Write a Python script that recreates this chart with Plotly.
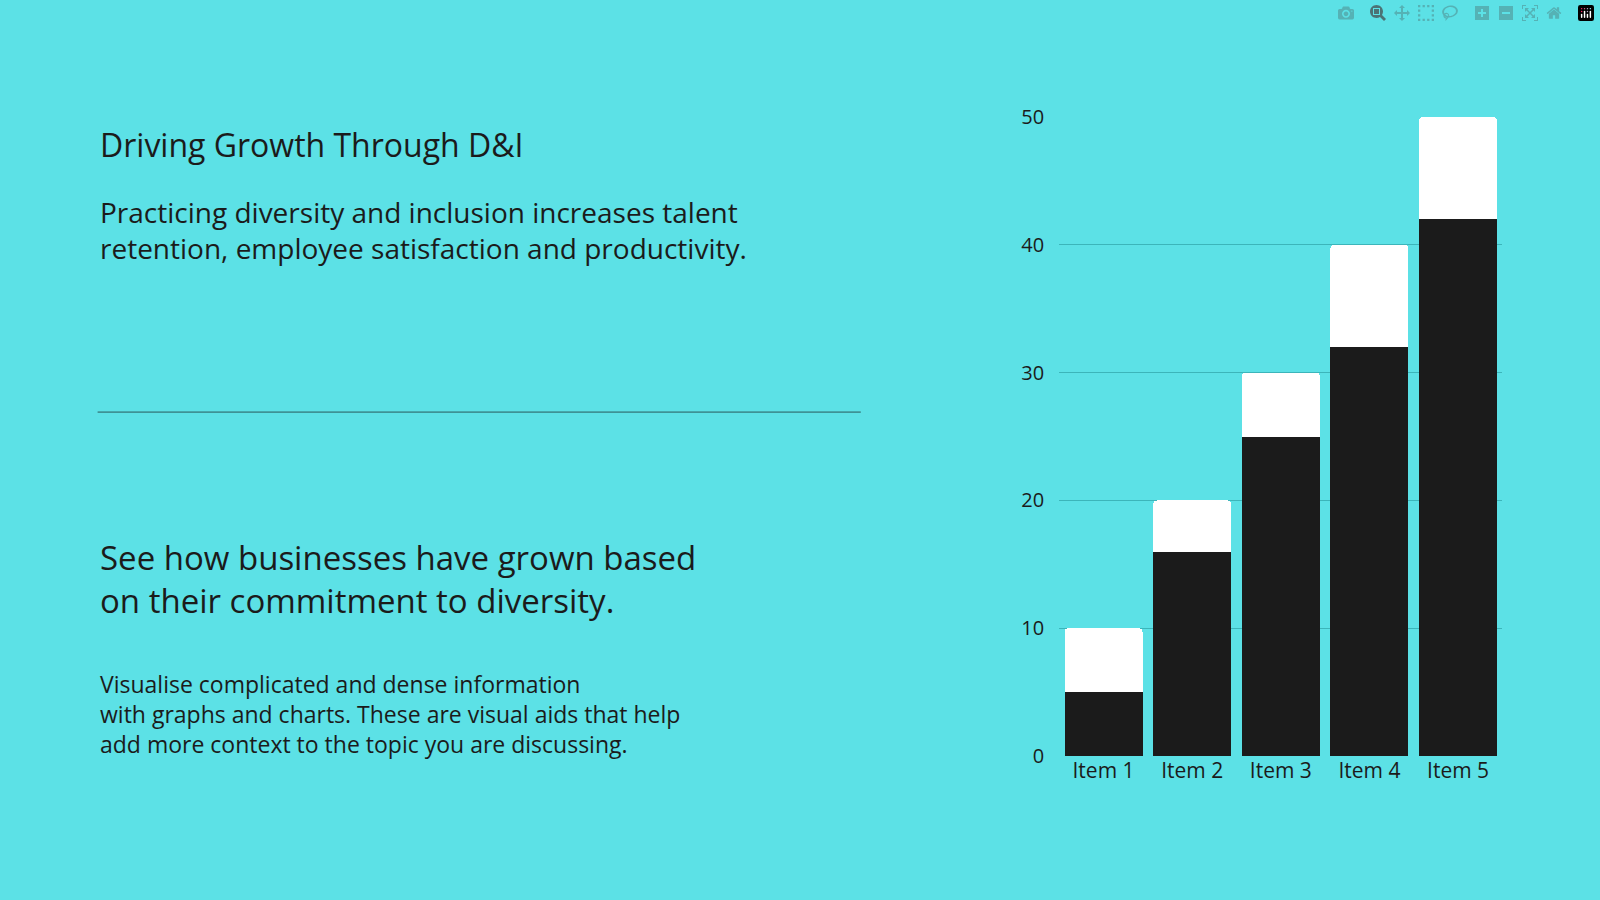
import plotly.graph_objects as go

items = ['Item 1', 'Item 2', 'Item 3', 'Item 4', 'Item 5']
base_values = [5, 16, 25, 32, 42]
top_values = [5, 4, 5, 8, 8]

bg = '#5ce1e6'
ink = '#1b1b1b'

fig = go.Figure()
fig.add_trace(go.Bar(x=items, y=base_values, marker_color=ink, marker_line_width=0))
fig.add_trace(go.Bar(x=items, y=top_values, marker_color='white', marker_line_width=0))

fig.update_layout(
    barmode='stack', bargap=0.12, barcornerradius=4,
    width=1600, height=900, showlegend=False,
    paper_bgcolor=bg, plot_bgcolor=bg,
    font=dict(family='Open Sans, sans-serif', color=ink),
    margin=dict(l=0, r=0, t=0, b=0),
    xaxis=dict(domain=[0.662, 0.939], showgrid=False, tickfont=dict(size=21)),
    yaxis=dict(domain=[0.150, 0.882], range=[0, 50], dtick=10, showgrid=True,
               gridcolor='#3cb5ba', gridwidth=1, zeroline=False,
               tickfont=dict(size=20), ticklabelstandoff=14),
)

def note(text, y, size, weight='normal'):
    fig.add_annotation(text=text, x=0.061, y=y, xref='paper', yref='paper',
                       xanchor='left', yanchor='top', align='left', showarrow=False,
                       font=dict(size=size, color=ink, weight=weight))

note('Driving Growth Through D&I', 0.878, 32, 500)
note('Practicing diversity and inclusion increases talent<br>retention, employee satisfaction and productivity.', 0.797, 28)
note('See how businesses have grown based<br>on their commitment to diversity.', 0.405, 33, 500)
note('Visualise complicated and dense information<br>with graphs and charts. These are visual aids that help<br>add more context to the topic you are discussing.', 0.253, 23)

fig.add_shape(type='line', xref='paper', yref='paper', x0=0.061, x1=0.538,
              y0=0.544, y1=0.544, line=dict(color='#2a5a5c', width=1))

fig.write_html('out.html', post_script="document.body.style.margin='0';")
